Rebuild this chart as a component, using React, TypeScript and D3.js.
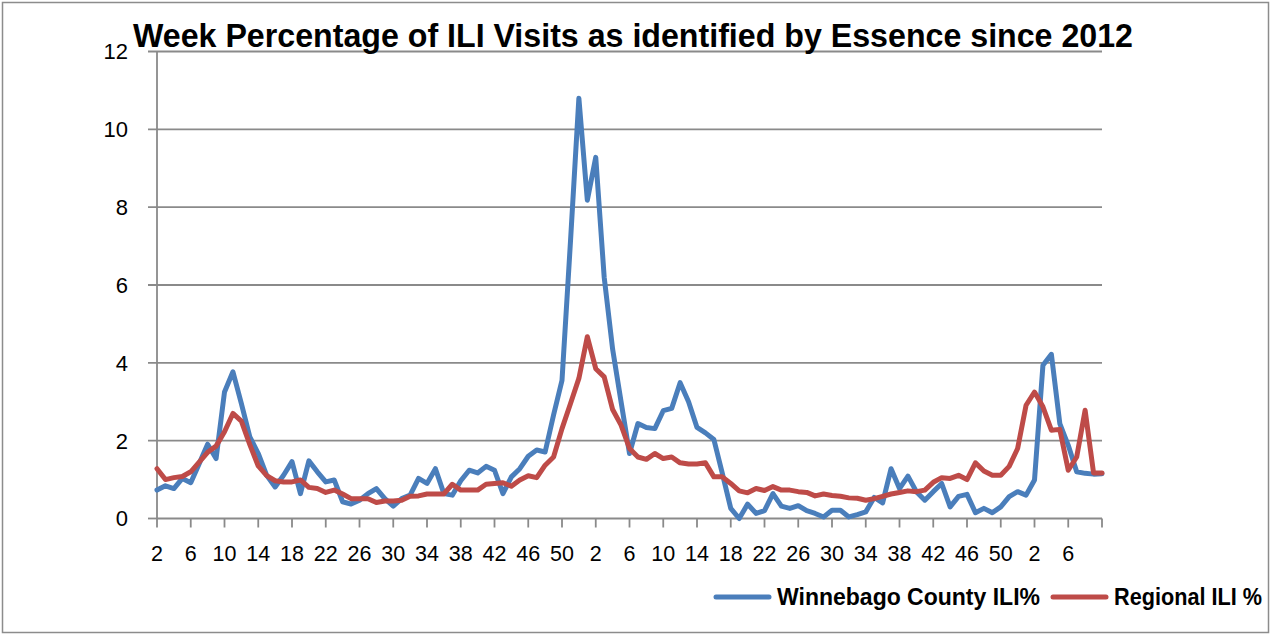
import * as d3 from 'd3';

// week numbers on the category axis (2012 w2 .. 2014 w10)
const weeks2012 = [2, 3, 4, 5, 6, 7, 8, 9, 10, 11, 12, 13, 14, 15, 16, 17, 18, 19, 20, 21, 22, 23, 24, 25, 26, 27, 28, 29, 30, 31, 32, 33, 34, 35, 36, 37, 38, 39, 40, 41, 42, 43, 44, 45, 46, 47, 48, 49, 50, 51, 52];
const weeks2013 = [1, 2, 3, 4, 5, 6, 7, 8, 9, 10, 11, 12, 13, 14, 15, 16, 17, 18, 19, 20, 21, 22, 23, 24, 25, 26, 27, 28, 29, 30, 31, 32, 33, 34, 35, 36, 37, 38, 39, 40, 41, 42, 43, 44, 45, 46, 47, 48, 49, 50, 51, 52];
const weeks2014 = [1, 2, 3, 4, 5, 6, 7, 8, 9, 10];
const weeks = [...weeks2012, ...weeks2013, ...weeks2014];

const winnebago = [
  0.73, 0.84, 0.77, 1.03, 0.92, 1.41, 1.91, 1.54, 3.25, 3.77, 2.95, 2.1, 1.67, 1.11, 0.81, 1.11, 1.46, 0.64, 1.48, 1.2,
  0.94, 0.99, 0.43, 0.37, 0.47, 0.64, 0.77, 0.51, 0.32, 0.51, 0.6, 1.03, 0.9, 1.28, 0.64, 0.6, 0.97, 1.24, 1.17, 1.34,
  1.24, 0.64, 1.07, 1.28, 1.6, 1.76, 1.71, 2.66, 3.55, 7.1, 10.8, 8.18, 9.28, 6.2, 4.35, 3.0, 1.67, 2.44, 2.34, 2.31,
  2.77, 2.83, 3.49, 3.0, 2.34, 2.2, 2.03, 1.16, 0.26, 0.0, 0.37, 0.13, 0.2, 0.64, 0.32, 0.26, 0.33, 0.2, 0.13, 0.04,
  0.21, 0.21, 0.04, 0.1, 0.17, 0.54, 0.4, 1.28, 0.77, 1.09, 0.69, 0.47, 0.69, 0.9, 0.3, 0.57, 0.62, 0.15, 0.26, 0.15,
  0.3, 0.56, 0.69, 0.6, 0.99, 3.94, 4.22, 2.44, 1.88, 1.2, 1.16, 1.14, 1.15
];

const regional = [
  1.28, 1.0, 1.05, 1.08, 1.2, 1.45, 1.7, 1.86, 2.23, 2.7, 2.5, 1.9, 1.35, 1.1, 0.97, 0.94, 0.94, 0.99, 0.8, 0.77,
  0.67, 0.73, 0.63, 0.51, 0.51, 0.51, 0.41, 0.45, 0.45, 0.47, 0.57, 0.58, 0.63, 0.63, 0.63, 0.88, 0.73, 0.73, 0.73, 0.88,
  0.9, 0.92, 0.83, 0.99, 1.1, 1.05, 1.37, 1.58, 2.31, 2.95, 3.6, 4.67, 3.85, 3.64, 2.8, 2.4, 1.8, 1.58, 1.52, 1.67,
  1.54, 1.58, 1.43, 1.4, 1.4, 1.43, 1.07, 1.07, 0.9, 0.71, 0.66, 0.77, 0.72, 0.82, 0.73, 0.73, 0.69, 0.67, 0.58, 0.63,
  0.59, 0.57, 0.53, 0.52, 0.47, 0.51, 0.57, 0.63, 0.67, 0.71, 0.69, 0.73, 0.93, 1.05, 1.03, 1.11, 1.0, 1.43, 1.22, 1.11,
  1.11, 1.34, 1.8, 2.91, 3.25, 2.87, 2.27, 2.29, 1.24, 1.58, 2.78, 1.17, 1.17
];

const yTicks = [0, 2, 4, 6, 8, 10, 12];

const W = 1271;
const H = 635;
const FONT = '"Liberation Sans", Arial, sans-serif';
const GRID = '#8a8a8a';
const BLUE = '#4A7EBB';
const RED = '#BE4B48';

export default function App() {
  const left = 157, right = 1102, top = 51.5, bottom = 518.5;
  const idx = weeks.map((_, i) => i);
  const x = d3.scalePoint<number>().domain(idx).range([left, right]);
  const y = d3.scaleLinear().domain([0, 12]).range([bottom, top]);
  const line = d3.line<number>().x((_, i) => x(i) as number).y(d => y(d));
  const xTicks = idx.filter(i => i % 4 === 0);

  return (
    <div style={{ position: 'absolute', left: 0, top: 0 }}>
      <svg width={W} height={H} style={{ display: 'block', fontFamily: FONT }}>
        <rect x={0} y={0} width={W} height={H} fill="#fff" />
        <rect x={2.5} y={2.5} width={W - 5} height={H - 5} fill="none" stroke="#8c8c8c" strokeWidth={1.5} />

        {/* grid + y axis */}
        {yTicks.map(t => (
          <g key={t}>
            <line x1={left - 9} x2={t === 0 ? left : right} y1={y(t)} y2={y(t)} stroke={GRID} strokeWidth={1.8} />
            <text x={128} y={y(t)} dy="0.36em" textAnchor="end" fontSize={22} fill="#000">{t}</text>
          </g>
        ))}
        <line x1={left} x2={left} y1={top} y2={bottom} stroke={GRID} strokeWidth={1.8} />
        <line x1={left} x2={right} y1={bottom} y2={bottom} stroke={GRID} strokeWidth={1.8} />

        {/* x axis ticks + labels */}
        {xTicks.map(i => (
          <g key={i}>
            <line x1={x(i)} x2={x(i)} y1={bottom} y2={bottom + 9} stroke={GRID} strokeWidth={1.8} />
            {i < weeks.length - 1 && (
              <text x={x(i)} y={561} textAnchor="middle" fontSize={21.5} fill="#000">{weeks[i]}</text>
            )}
          </g>
        ))}

        <path d={line(winnebago) ?? ''} fill="none" stroke={BLUE} strokeWidth={5} strokeLinejoin="round" strokeLinecap="round" />
        <path d={line(regional) ?? ''} fill="none" stroke={RED} strokeWidth={5} strokeLinejoin="round" strokeLinecap="round" />

        <text x={133} y={47} fontSize={34} fontWeight="bold" fill="#000" textLength={1000} lengthAdjust="spacingAndGlyphs">
          Week Percentage of ILI Visits as identified by Essence since 2012
        </text>

        {/* legend */}
        <line x1={716} x2={769} y1={597} y2={597} stroke={BLUE} strokeWidth={5} strokeLinecap="round" />
        <text x={777} y={605} fontSize={23} fontWeight="bold" fill="#000" textLength={263} lengthAdjust="spacingAndGlyphs">Winnebago County ILI%</text>
        <line x1={1053} x2={1106} y1={597} y2={597} stroke={RED} strokeWidth={5} strokeLinecap="round" />
        <text x={1114} y={605} fontSize={23} fontWeight="bold" fill="#000" textLength={148} lengthAdjust="spacingAndGlyphs">Regional ILI %</text>
      </svg>
    </div>
  );
}
